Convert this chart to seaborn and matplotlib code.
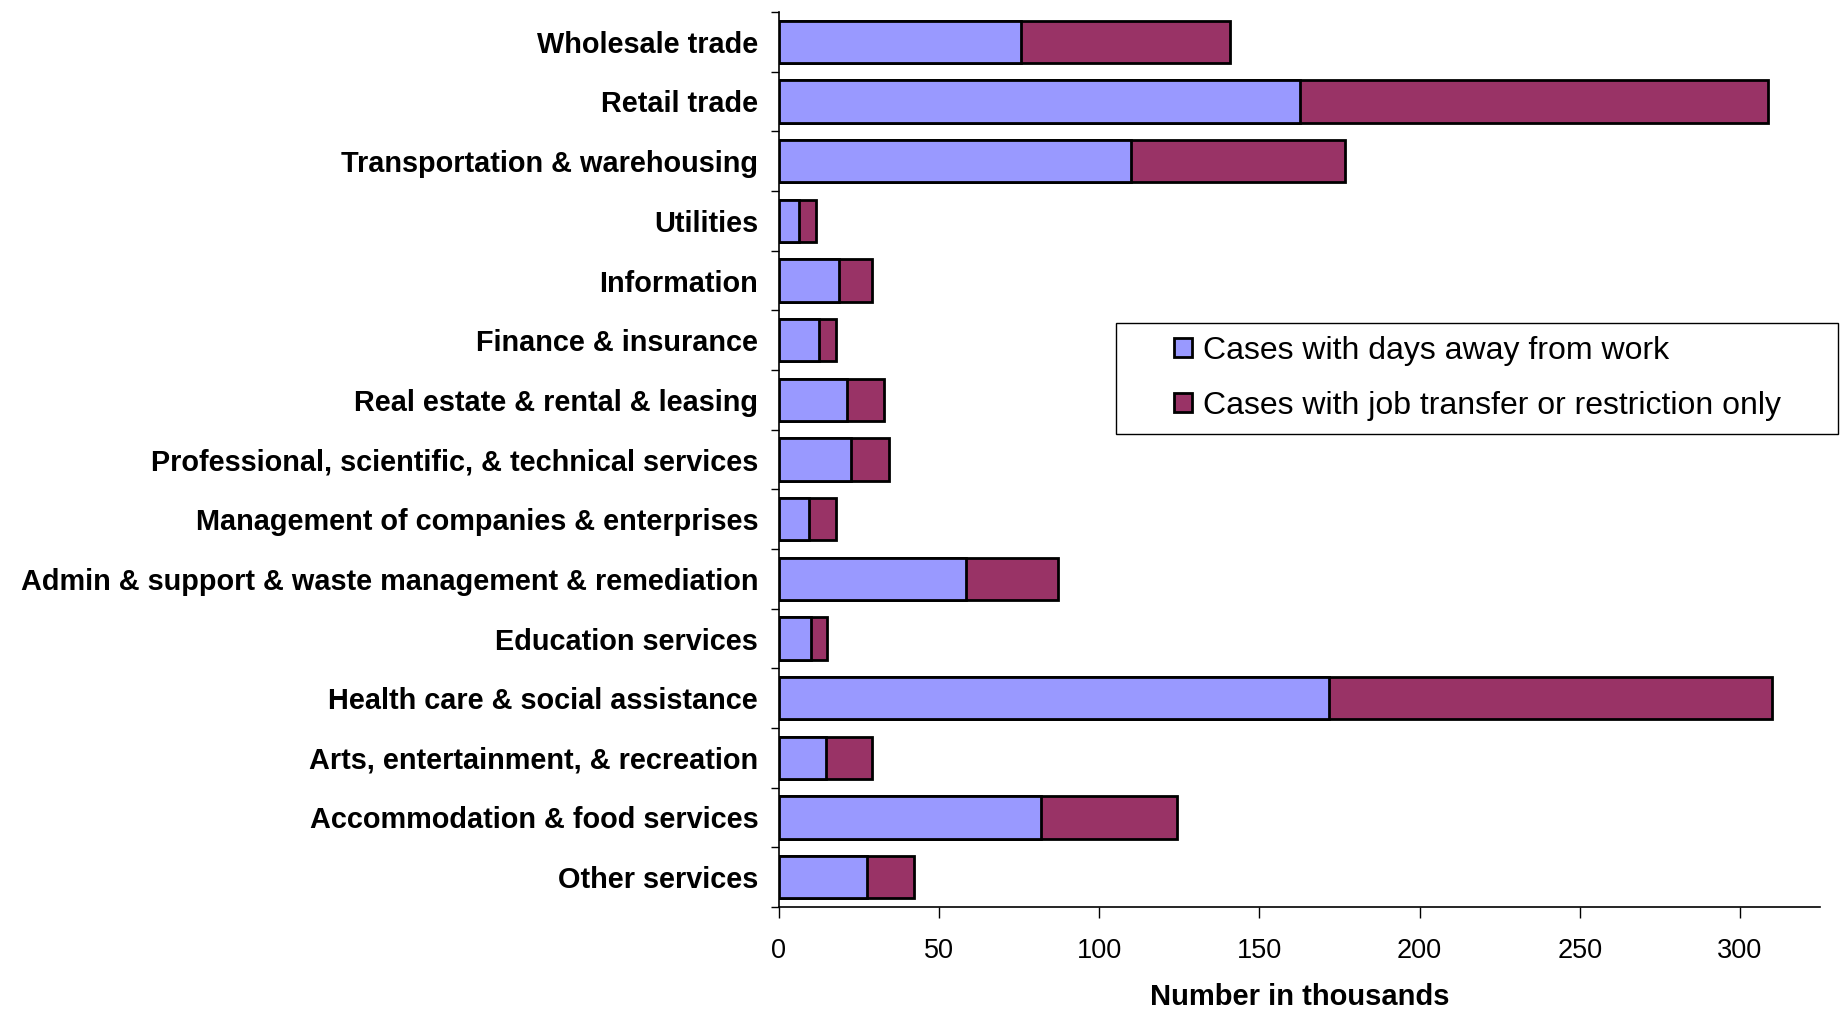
import numpy as np
import pandas as pd
import matplotlib
matplotlib.use("Agg")
import matplotlib.pyplot as plt
import seaborn as sns
from matplotlib.patches import Patch, Rectangle

# -------------------------
# Data (thousands of cases)
# -------------------------
industries = [
    "Wholesale trade",
    "Retail trade",
    "Transportation & warehousing",
    "Utilities",
    "Information",
    "Finance & insurance",
    "Real estate & rental & leasing",
    "Professional, scientific, & technical services",
    "Management of companies & enterprises",
    "Admin & support & waste management & remediation",
    "Education services",
    "Health care & social assistance",
    "Arts, entertainment, & recreation",
    "Accommodation & food services",
    "Other services",
]
days_away = [75.5, 162.5, 109.8, 6.3, 18.7, 12.5, 21.1, 22.6, 9.5, 58.3, 10.1, 171.7, 14.7, 81.8, 27.4]
job_transfer = [65.2, 146.3, 66.9, 5.3, 10.2, 5.4, 11.6, 11.6, 8.4, 28.9, 4.8, 138.4, 14.2, 42.6, 14.6]

series_names = ["Cases with days away from work", "Cases with job transfer or restriction only"]
blue = "#9999FF"
maroon = "#993366"

df = pd.DataFrame({"industry": industries, "days": days_away, "transfer": job_transfer})
df["total"] = df["days"] + df["transfer"]

# -------------------------
# Plot
# -------------------------
sns.set_style("white")
plt.rcParams["font.family"] = ["Liberation Sans", "DejaVu Sans"]
plt.rcParams["text.color"] = "black"
plt.rcParams["xtick.color"] = "black"
plt.rcParams["ytick.color"] = "black"
plt.rcParams["axes.labelcolor"] = "black"

W, H = 1841, 1011
fig = plt.figure(figsize=(W / 100, H / 100), dpi=100)
ax = fig.add_axes([779 / W, (H - 907) / H, (1820 - 779) / W, (907 - 12) / H])

# stacked: draw the total first, then the first segment on top
sns.barplot(data=df, x="total", y="industry", order=industries, color=maroon,
            saturation=1, width=0.71, edgecolor="black", linewidth=2, ax=ax)
sns.barplot(data=df, x="days", y="industry", order=industries, color=blue,
            saturation=1, width=0.71, edgecolor="black", linewidth=2, ax=ax)

ax.set_xlim(0, 325)
ax.set_ylim(len(industries) - 0.5, -0.5)
ax.set_xticks([0, 50, 100, 150, 200, 250, 300])
ax.tick_params(axis="x", direction="out", length=8, width=1, color="black",
               labelsize=19.5, pad=14, bottom=True)
ax.tick_params(axis="y", which="major", length=0, labelsize=20.8, pad=15)
ax.set_yticks(np.arange(-0.5, len(industries), 1), minor=True)
ax.tick_params(axis="y", which="minor", direction="out", length=6, width=1,
               color="black", left=True)
for lbl in ax.get_yticklabels():
    lbl.set_fontweight("bold")

ax.set_ylabel("")
ax.set_xlabel("Number in thousands", fontsize=21, fontweight="bold", labelpad=14)

for side in ["top", "right"]:
    ax.spines[side].set_visible(False)
for side in ["left", "bottom"]:
    ax.spines[side].set_color("black")
    ax.spines[side].set_linewidth(1.2)

# legend box drawn separately so the entries can sit inset like the original
fig.patches.append(Rectangle((1116 / W, 1 - 434 / H), (1838 - 1116) / W, (434 - 323) / H,
                             transform=fig.transFigure, facecolor="white",
                             edgecolor="black", linewidth=1, zorder=5))
handles = [Patch(facecolor=blue, edgecolor="black", linewidth=2, label=series_names[0]),
           Patch(facecolor=maroon, edgecolor="black", linewidth=2, label=series_names[1])]
leg = fig.legend(handles=handles, loc="upper left",
                 bbox_to_anchor=(1174 / W, 1 - 336 / H),
                 fontsize=23, frameon=False,
                 handlelength=0.55, handleheight=0.55, handletextpad=0.35,
                 labelspacing=0.78, borderpad=0, borderaxespad=0)
leg.set_zorder(6)

fig.savefig("out.png", dpi=100)
